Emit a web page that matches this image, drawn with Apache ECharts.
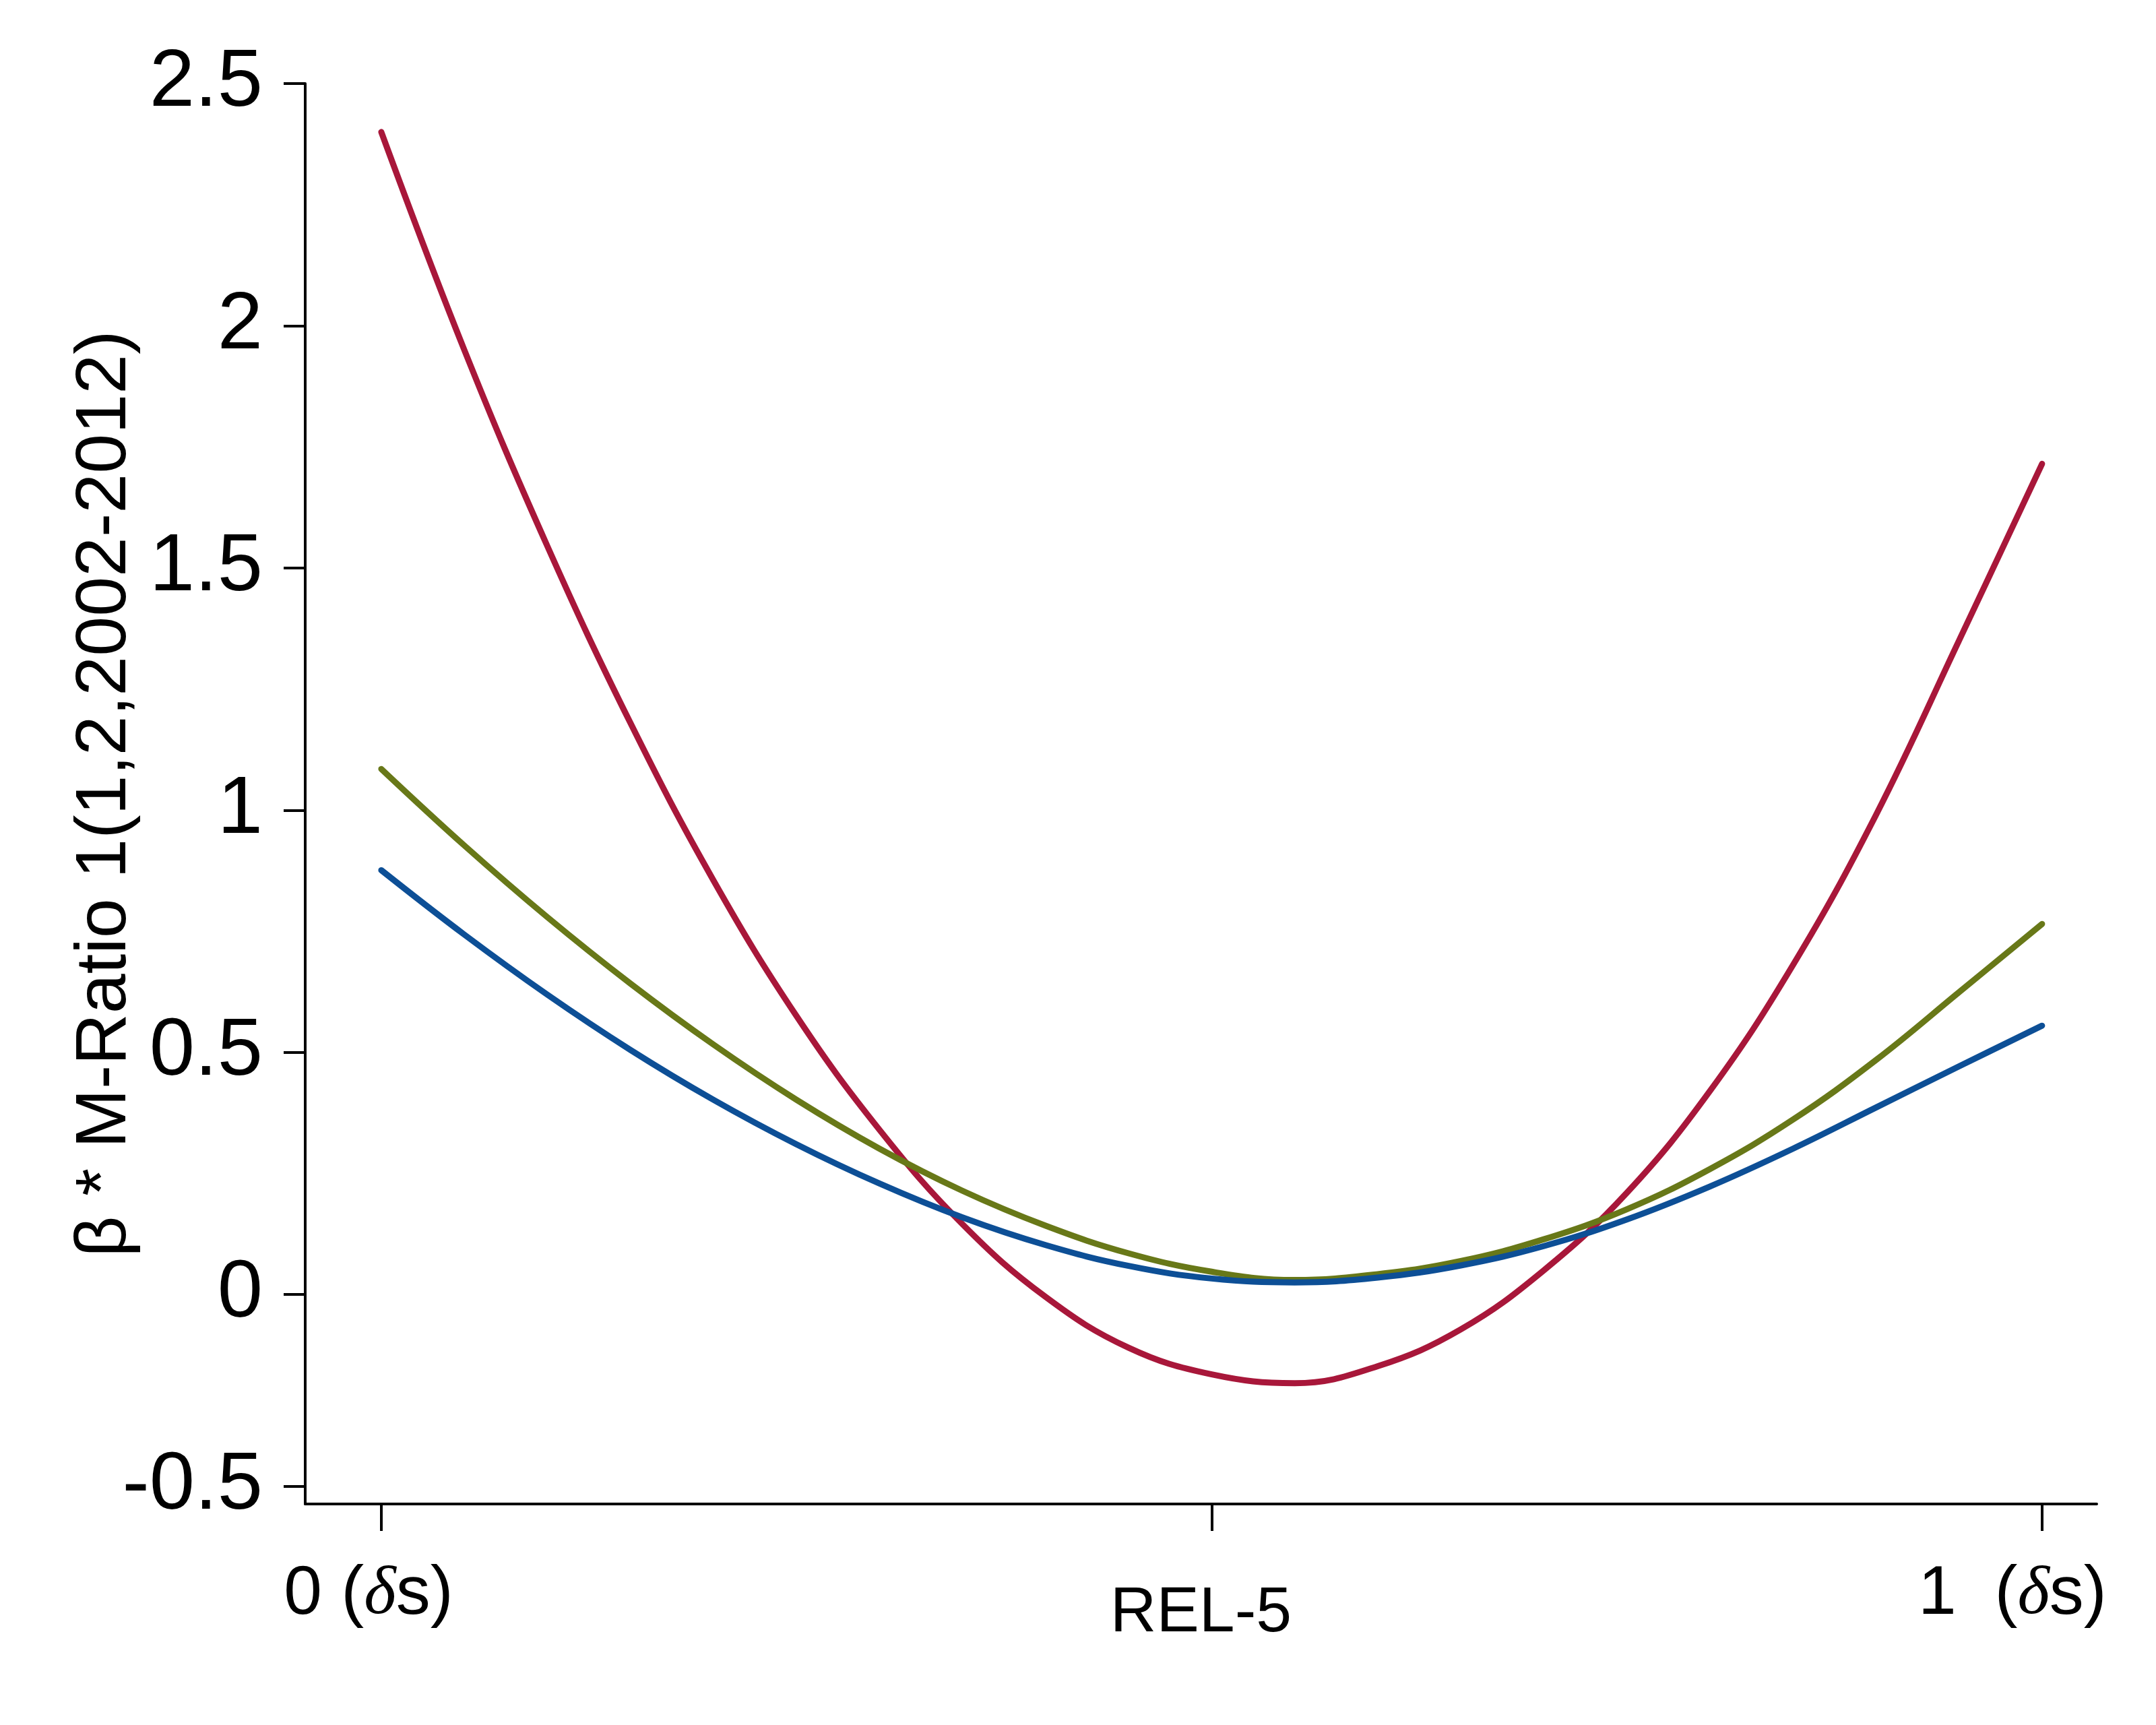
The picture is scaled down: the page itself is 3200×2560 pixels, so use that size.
<!DOCTYPE html>
<html>
<head>
<meta charset="utf-8">
<title>REL-5</title>
<script src="https://cdn.jsdelivr.net/npm/echarts@6/dist/echarts.min.js"></script>
<style>
    html, body { margin: 0; padding: 0; background: #ffffff; }
    #mainChart { width: 3200px; height: 2560px; }
</style>
</head>
<body>
<div id="mainChart"></div>
<script>
'use strict';

// position along REL-5, 0 .. 1 (δs)
var xs = [0, 0.05, 0.1, 0.15, 0.2, 0.25, 0.3, 0.35, 0.4, 0.45, 0.5,
    0.55, 0.6, 0.65, 0.7, 0.75, 0.8, 0.85, 0.9, 0.95, 1];

var redValues = [2.40, 1.95, 1.545, 1.18, 0.855, 0.575, 0.34, 0.145, -0.005, -0.11, -0.165,
    -0.183, -0.148, -0.072, 0.05, 0.21, 0.42, 0.68, 0.99, 1.35, 1.715];
var greenValues = [1.085, 0.927, 0.779, 0.642, 0.516, 0.402, 0.301, 0.214, 0.142, 0.085, 0.047,
    0.03, 0.042, 0.069, 0.114, 0.176, 0.259, 0.361, 0.484, 0.624, 0.765];
var blueValues = [0.876, 0.743, 0.619, 0.505, 0.402, 0.31, 0.229, 0.159, 0.102, 0.059, 0.033,
    0.025, 0.035, 0.06, 0.10, 0.155, 0.223, 0.301, 0.386, 0.471, 0.555];

// the original figure puts its "-0.5" tick just under zero, not at -0.5
var yTickValues = [-0.396, 0, 0.5, 1, 1.5, 2, 2.5];
var yTickLabels = ['-0.5', '0', '0.5', '1', '1.5', '2', '2.5'];
var xTickValues = [0, 0.5, 1];
var xTickLabels = ['0 (δs)', '', '1  (δs)'];

var yName = 'β * M-Ratio 1(1,2,2002-2012)';
var xName = 'REL-5';

window.onload = function() {

    var myChart = echarts.init(document.getElementById('mainChart'), null, { renderer: 'canvas' });

    function pairs(values) {
        var out = [];
        for (var i = 0; i < xs.length; i++) {
            out.push([xs[i], values[i]]);
        }
        return out;
    }

    function lineSeries(name, values, color) {
        return {
            name: name,
            type: 'line',
            data: pairs(values),
            smooth: 0.4,
            showSymbol: false,
            symbol: 'none',
            lineStyle: { color: color, width: 9, cap: 'round' },
            animation: false
        };
    }

    var axisBlack = { show: true, onZero: false, lineStyle: { color: '#000000', width: 4 } };

    var option = {
        backgroundColor: '#ffffff',
        animation: false,
        textStyle: { fontFamily: 'Liberation Sans, Arial, sans-serif', color: '#000000' },
        grid: { left: 453, top: 124, right: 88, bottom: 328, containLabel: false },
        xAxis: {
            type: 'value',
            min: -0.0458,
            max: 1.0329,
            name: xName,
            nameLocation: 'middle',
            nameGap: 115,
            nameMoveOverlap: false,
            nameTextStyle: { fontSize: 95, color: '#000000', fontFamily: 'Liberation Sans' },
            axisLine: axisBlack,
            axisTick: {
                show: true, inside: false, length: 40,
                customValues: xTickValues,
                lineStyle: { color: '#000000', width: 4 }
            },
            axisLabel: {
                show: true,
                margin: 84,
                customValues: xTickValues,
                fontSize: 102,
                color: '#000000',
                formatter: function(v) {
                    var idx = xTickValues.indexOf(v);
                    var txt = idx >= 0 ? xTickLabels[idx] : '';
                    if (!txt) {
                        return '';
                    }
                    // the labels in the figure sit a little left of their ticks
                    return txt.replace('δ', '{d|δ}') + (v > 0.5 ? '{gapL| }' : '{gapS| }');
                },
                rich: {
                    d: { fontSize: 102, fontStyle: 'italic', fontFamily: 'Liberation Serif', color: '#000000' },
                    gapS: { fontSize: 102, width: 38 },
                    gapL: { fontSize: 102, width: 88 }
                }
            },
            splitLine: { show: false }
        },
        yAxis: {
            type: 'value',
            min: -0.4325,
            max: 2.5,
            name: yName,
            nameLocation: 'middle',
            nameGap: 243,
            nameMoveOverlap: false,
            nameRotate: 90,
            nameTextStyle: { fontSize: 106, color: '#000000', fontFamily: 'Liberation Sans' },
            axisLine: axisBlack,
            axisTick: {
                show: true, inside: false, length: 32,
                customValues: yTickValues,
                lineStyle: { color: '#000000', width: 4 }
            },
            axisLabel: {
                show: true,
                margin: 63,
                customValues: yTickValues,
                fontSize: 121,
                color: '#000000',
                formatter: function(v) {
                    var idx = yTickValues.indexOf(v);
                    return idx >= 0 ? yTickLabels[idx] : '';
                }
            },
            splitLine: { show: false }
        },
        series: [
            lineSeries('red', redValues, '#A8173A'),
            lineSeries('green', greenValues, '#687818'),
            lineSeries('blue', blueValues, '#0D4F96')
        ]
    };

    myChart.setOption(option);
};
</script>
</body>
</html>
